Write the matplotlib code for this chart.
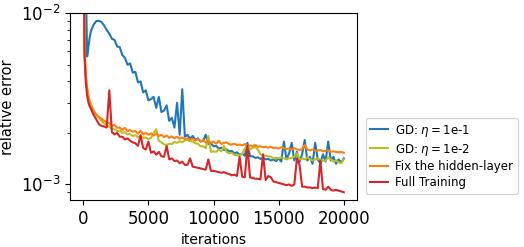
import numpy as np
import matplotlib
matplotlib.use("Agg")
import matplotlib.pyplot as plt

# iterations at which the error was recorded
iters = [0, 100, 200, 300, 400, 500, 600] + list(range(800, 20001, 200))

# relative error, in units of 1e-3
gd_1e1 = [50, 30, 15, 5.6, 6.4, 7.3, 7.9, 8.6,
          9.0, 9.05, 8.9, 8.5, 8.0,
          7.6, 7.1, 7.0, 6.4, 6.35,
          5.7, 5.5, 5.0, 5.1, 4.5,
          4.55, 3.95, 4.0, 3.45, 3.55,
          3.1, 3.15, 3.25, 2.8, 3.25,
          2.65, 2.7, 2.9, 2.35, 2.45,
          2.15, 3.0, 1.95, 3.6, 1.9,
          1.95, 1.85, 1.92, 1.82, 1.86,
          1.78, 1.8, 1.95, 1.72, 1.74,
          1.67, 1.68, 1.62, 1.64, 1.59,
          1.6, 1.56, 1.57, 1.52, 1.54,
          1.49, 1.51, 1.47, 1.75, 1.46,
          1.46, 1.43, 1.44, 1.41, 1.43,
          1.4, 1.41, 1.38, 1.4, 1.37,
          1.42, 1.36, 1.78, 1.4, 1.52,
          1.75, 1.38, 1.55, 1.35, 1.5,
          1.82, 1.38, 1.45, 1.32, 1.75,
          1.4, 1.33, 1.5, 1.36, 1.78,
          1.38, 1.45, 1.32, 1.4, 1.34,
          1.42]

gd_1e2 = [50, 6.2, 4.4, 3.7, 3.3, 3.05, 2.9, 2.7,
          2.55, 2.45, 2.35, 2.27, 2.22,
          2.17, 2.12, 2.1, 2.05, 2.06,
          2.0, 2.02, 1.96, 1.97, 1.92,
          1.94, 1.89, 1.91, 1.87, 1.88,
          1.84, 1.87, 2.0, 2.1, 1.8,
          1.76, 1.72, 1.7, 1.73, 1.72,
          1.77, 1.75, 1.79, 1.76, 1.81,
          1.82, 1.79, 1.78, 1.74, 1.73,
          1.67, 1.67, 1.63, 1.92, 1.55,
          1.56, 1.55, 1.6, 1.56, 1.68,
          1.55, 1.52, 1.53, 1.49, 1.48,
          1.48, 1.51, 1.62, 1.66, 1.6,
          1.63, 1.66, 1.6, 1.5, 1.48,
          1.47, 1.46, 1.45, 1.42, 1.43,
          1.42, 1.44, 1.42, 1.41, 1.42,
          1.43, 1.45, 1.52, 1.4, 1.42,
          1.4, 1.44, 1.4, 1.38, 1.4,
          1.42, 1.39, 1.37, 1.38, 1.44,
          1.4, 1.36, 1.38, 1.35, 1.33,
          1.4]

fix_hidden = [50, 6.0, 4.3, 3.6, 3.25, 3.0, 2.88, 2.68,
              2.56, 2.48, 2.42, 2.36, 2.3,
              2.28, 2.2, 2.23, 2.14, 2.15,
              2.08, 2.14, 2.05, 2.08, 2.03,
              2.05, 1.98, 2.06, 1.96, 2.0,
              1.95, 1.99, 1.93, 1.98, 1.92,
              1.95, 1.89, 1.93, 1.87, 1.91,
              1.86, 1.9, 1.85, 1.88, 1.84,
              1.86, 1.82, 1.85, 1.8, 1.84,
              1.79, 1.81, 1.76, 1.8, 1.75,
              1.78, 1.73, 1.8, 1.72, 1.75,
              1.76, 1.72, 1.71, 1.73, 1.7,
              1.71, 1.69, 1.72, 1.68, 1.69,
              1.67, 1.7, 1.66, 1.67, 1.65,
              1.66, 1.64, 1.66, 1.63, 1.64,
              1.62, 1.65, 1.63, 1.61, 1.62,
              1.6, 1.63, 1.6, 1.59, 1.61,
              1.7, 1.6, 1.58, 1.6, 1.57,
              1.58, 1.59, 1.56, 1.57, 1.58,
              1.55, 1.56, 1.55, 1.54, 1.55,
              1.53]

full_train = [50, 5.5, 3.9, 3.3, 3.0, 2.85, 2.75, 2.55,
              2.4, 2.25, 2.2, 2.18, 2.15,
              3.55, 2.02, 1.96, 2.0, 1.9,
              1.9, 1.83, 1.86, 1.8, 1.76,
              1.74, 1.68, 1.94, 1.63, 1.6,
              1.78, 1.53, 1.56, 1.49, 1.55,
              1.46, 1.45, 1.68, 1.4, 1.42,
              1.37, 1.38, 1.33, 1.36, 1.3,
              1.3, 1.42, 1.27, 1.26, 1.25,
              1.24, 1.23, 1.22, 1.4, 1.2,
              1.2, 1.19, 1.18, 1.17, 1.18,
              1.16, 1.15, 1.13, 1.14, 1.12,
              1.45, 1.11, 1.1, 1.68, 1.1,
              1.09, 1.08, 1.08, 1.07, 1.5,
              1.06, 1.12, 1.1, 1.04, 1.03,
              1.02, 1.01, 1.0, 0.99, 1.0,
              0.98, 1.0, 1.42, 1.3, 0.97,
              0.97, 0.96, 0.96, 0.95, 0.96,
              0.95, 1.38, 0.94, 0.93, 0.97,
              0.93, 0.92, 0.93, 0.92, 0.91,
              0.9]

labels = [r"GD: $\eta=$1e-1", r"GD: $\eta=$1e-2", "Fix the hidden-layer", "Full Training"]
colors = ["#1f77b4", "#bcbd22", "#ff7f0e", "#d62728"]

fig = plt.figure(figsize=(5.24, 2.47), dpi=100)
ax = fig.add_axes([0.134, 0.19, 0.547, 0.756])
for ys, lab, c in zip([gd_1e1, gd_1e2, fix_hidden, full_train], labels, colors):
    ax.plot(iters, np.array(ys) * 1e-3, color=c, label=lab, linewidth=1.5)

ax.set_yscale("log")
ax.set_ylim(8.1e-4, 1e-2)
ax.set_xticks([0, 5000, 10000, 15000, 20000])
ax.tick_params(axis="both", which="major", labelsize=12)
ax.set_xlabel("iterations", fontsize=10)
ax.set_ylabel("relative error", fontsize=10.5)
ax.legend(loc="lower left", bbox_to_anchor=(1.01, 0.0), fontsize=8.5,
          labelspacing=0.25, handlelength=1.5, handletextpad=0.6)
fig.savefig("out.png", dpi=100)
